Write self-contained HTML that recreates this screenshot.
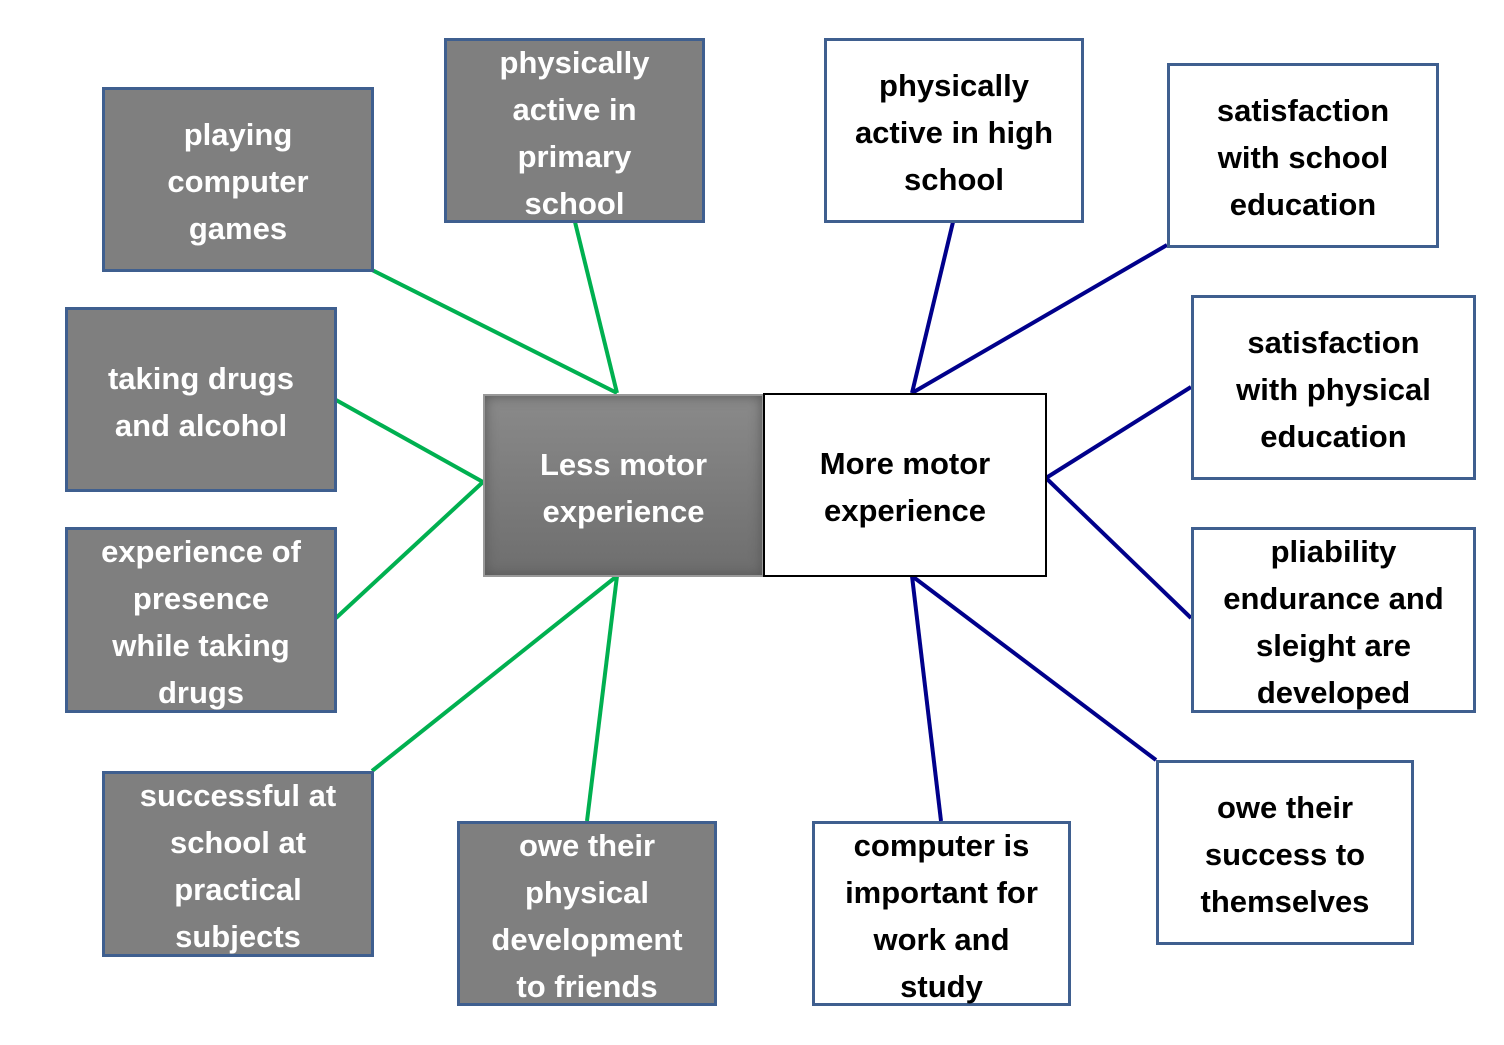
<!DOCTYPE html>
<html><head><meta charset="utf-8"><style>
body{margin:0;width:1504px;height:1045px;background:#fff;position:relative;overflow:hidden;font-family:"Liberation Sans",sans-serif;font-weight:bold;}
.b{position:absolute;box-sizing:border-box;border:3px solid #3f5f8f;display:flex;align-items:center;justify-content:center;text-align:center;font-size:31px;line-height:47px;white-space:nowrap;padding-top:4px;}
.g{background:#7f7f7f;color:#fff;}
.w{background:#fff;color:#000;}
svg{position:absolute;left:0;top:0;}
</style></head><body>
<svg width="1504" height="1045">
<g stroke="#00b050" stroke-width="4">
<line x1="372" y1="270" x2="617" y2="393"/><line x1="575" y1="222" x2="617" y2="393"/>
<line x1="336" y1="400" x2="483" y2="482"/><line x1="336" y1="618" x2="483" y2="482"/>
<line x1="372" y1="771" x2="617" y2="576"/><line x1="587" y1="821" x2="617" y2="576"/>
</g>
<g stroke="#00008b" stroke-width="4">
<line x1="953" y1="222" x2="912" y2="393"/><line x1="1167" y1="245" x2="912" y2="393"/>
<line x1="1191" y1="387" x2="1046" y2="478"/><line x1="1191" y1="618" x2="1046" y2="478"/>
<line x1="1156" y1="760" x2="912" y2="576"/><line x1="941" y1="821" x2="912" y2="576"/>
</g>
</svg>
<div class="b g" style="left:102px;top:87px;width:272px;height:185px">playing<br>computer<br>games</div>
<div class="b g" style="left:444px;top:38px;width:261px;height:185px">physically<br>active in<br>primary<br>school</div>
<div class="b g" style="left:65px;top:307px;width:272px;height:185px">taking drugs<br>and alcohol</div>
<div class="b g" style="left:65px;top:527px;width:272px;height:186px">experience of<br>presence<br>while taking<br>drugs</div>
<div class="b g" style="left:102px;top:771px;width:272px;height:186px">successful at<br>school at<br>practical<br>subjects</div>
<div class="b g" style="left:457px;top:821px;width:260px;height:185px">owe their<br>physical<br>development<br>to friends</div>
<div class="b" style="left:483px;top:394px;width:281px;height:183px;border:2px solid #999;background:linear-gradient(#8a8a8a,#6e6e6e);color:#fff;box-shadow:inset 0 0 12px #555;">Less motor<br>experience</div>
<div class="b w" style="left:763px;top:393px;width:284px;height:184px;border:2px solid #000;">More motor<br>experience</div>
<div class="b w" style="left:824px;top:38px;width:260px;height:185px">physically<br>active in high<br>school</div>
<div class="b w" style="left:1167px;top:63px;width:272px;height:185px">satisfaction<br>with school<br>education</div>
<div class="b w" style="left:1191px;top:295px;width:285px;height:185px">satisfaction<br>with physical<br>education</div>
<div class="b w" style="left:1191px;top:527px;width:285px;height:186px">pliability<br>endurance and<br>sleight are<br>developed</div>
<div class="b w" style="left:1156px;top:760px;width:258px;height:185px">owe their<br>success to<br>themselves</div>
<div class="b w" style="left:812px;top:821px;width:259px;height:185px">computer is<br>important for<br>work and<br>study</div>
</body></html>
